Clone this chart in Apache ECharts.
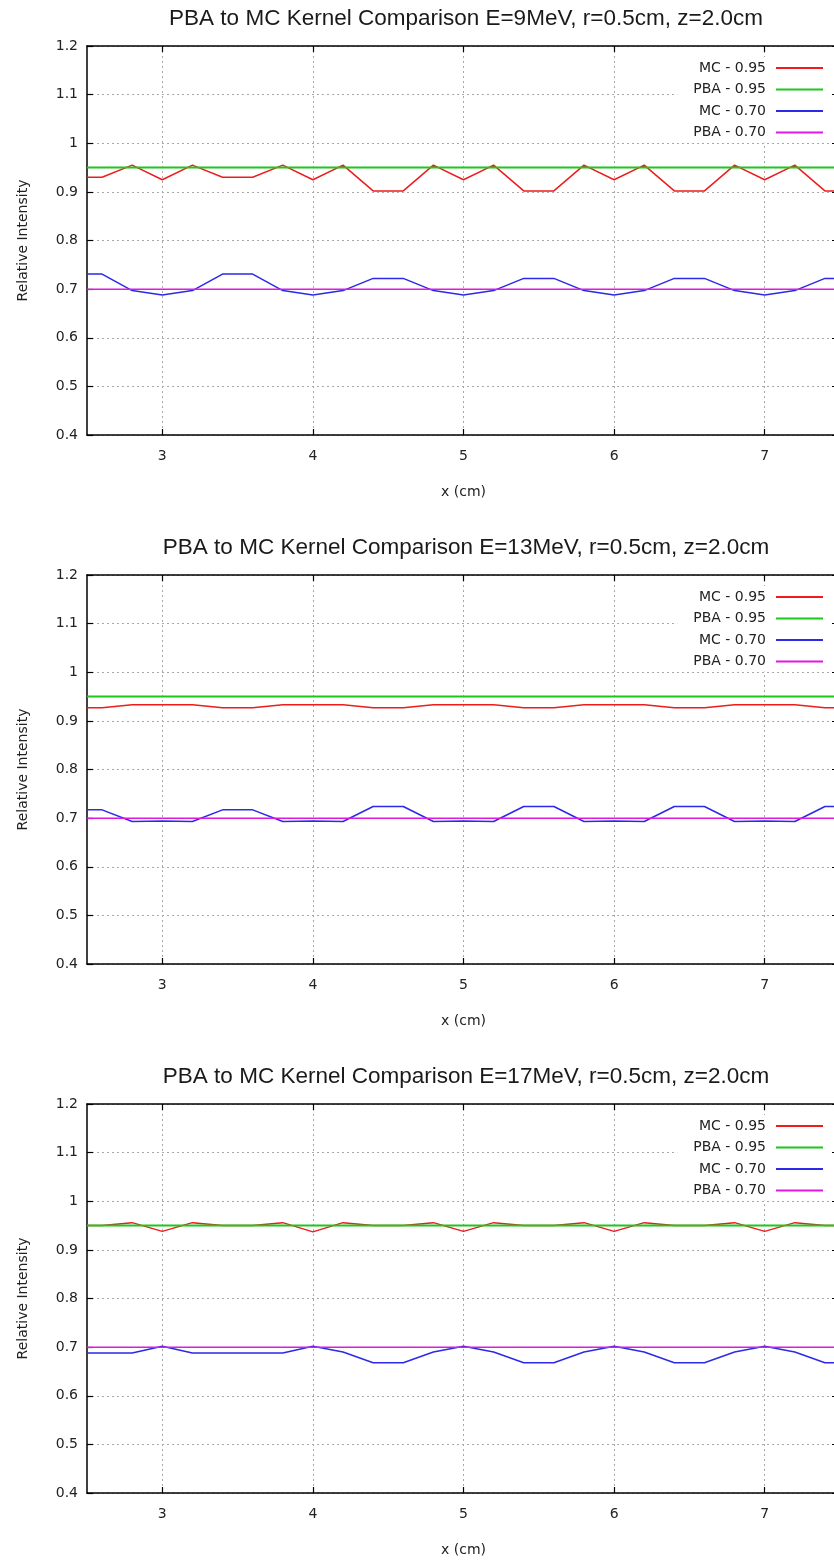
<!DOCTYPE html>
<html>
<head>
<meta charset="utf-8">
<script src="https://cdn.jsdelivr.net/npm/echarts@6/dist/echarts.min.js"></script>
<style>
  html, body { margin: 0; padding: 0; background: #ffffff; }
  #chart { width: 834px; height: 1564px; }
</style>
</head>
<body>
<div id="chart"></div>
<script>
// Lateral positions (cm) at which the kernels were sampled
const xPos = [2.5, 2.6, 2.8, 3.0, 3.2, 3.4, 3.6, 3.8, 4.0, 4.2, 4.4, 4.6, 4.8, 5.0,
              5.2, 5.4, 5.6, 5.8, 6.0, 6.2, 6.4, 6.6, 6.8, 7.0, 7.2, 7.4, 7.5];

// Panel titles
const titles = [
  'PBA to MC Kernel Comparison E=9MeV, r=0.5cm, z=2.0cm',
  'PBA to MC Kernel Comparison E=13MeV, r=0.5cm, z=2.0cm',
  'PBA to MC Kernel Comparison E=17MeV, r=0.5cm, z=2.0cm'
];

// Monte Carlo profiles, 9 MeV
const mc95_9 = [0.930, 0.930, 0.955, 0.925, 0.955, 0.930, 0.930, 0.955, 0.925, 0.955, 0.902, 0.902, 0.955, 0.925,
                0.955, 0.902, 0.902, 0.955, 0.925, 0.955, 0.902, 0.902, 0.955, 0.925, 0.955, 0.902, 0.902];
const mc70_9 = [0.731, 0.731, 0.697, 0.688, 0.697, 0.731, 0.731, 0.697, 0.688, 0.697, 0.722, 0.722, 0.697, 0.688,
                0.697, 0.722, 0.722, 0.697, 0.688, 0.697, 0.722, 0.722, 0.697, 0.688, 0.697, 0.722, 0.722];

// Monte Carlo profiles, 13 MeV
const mc95_13 = [0.927, 0.927, 0.933, 0.933, 0.933, 0.927, 0.927, 0.933, 0.933, 0.933, 0.927, 0.927, 0.933, 0.933,
                 0.933, 0.927, 0.927, 0.933, 0.933, 0.933, 0.927, 0.927, 0.933, 0.933, 0.933, 0.927, 0.927];
const mc70_13 = [0.717, 0.717, 0.693, 0.694, 0.693, 0.717, 0.717, 0.693, 0.694, 0.693, 0.724, 0.724, 0.693, 0.694,
                 0.693, 0.724, 0.724, 0.693, 0.694, 0.693, 0.724, 0.724, 0.693, 0.694, 0.693, 0.724, 0.724];

// Monte Carlo profiles, 17 MeV
const mc95_17 = [0.950, 0.950, 0.956, 0.938, 0.956, 0.950, 0.950, 0.956, 0.937, 0.956, 0.950, 0.950, 0.956, 0.938,
                 0.956, 0.950, 0.950, 0.956, 0.938, 0.956, 0.950, 0.950, 0.956, 0.938, 0.956, 0.950, 0.950];
const mc70_17 = [0.688, 0.688, 0.688, 0.702, 0.688, 0.688, 0.688, 0.688, 0.702, 0.690, 0.668, 0.668, 0.690, 0.702,
                 0.690, 0.668, 0.668, 0.690, 0.702, 0.690, 0.668, 0.668, 0.690, 0.702, 0.690, 0.668, 0.668];

// Pencil-beam (PBA) reference levels, flat across the field
const pbaX = [2.5, 7.5];
const pba95 = [0.95, 0.95];
const pba70 = [0.70, 0.70];

// Axis ticks
const xTicks = [3, 4, 5, 6, 7];
const seriesNames = ['MC - 0.95', 'PBA - 0.95', 'MC - 0.70', 'PBA - 0.70'];
const seriesColors = ['#ee1c1c', '#1cc81c', '#2a2ae8', '#e018e0'];

const mcSets = [[mc95_9, mc70_9], [mc95_13, mc70_13], [mc95_17, mc70_17]];

const FONT = 'DejaVu Sans';
const panelTop = [46, 575, 1104];
const plotH = 389;
const plotW = 753; // right frame sits just past the canvas edge

const pairs = (xs, ys) => xs.map((x, i) => [x, ys[i]]);

const option = {
  animation: false,
  backgroundColor: '#ffffff',
  title: [], grid: [], xAxis: [], yAxis: [], legend: [], series: []
};

panelTop.forEach((top, p) => {
  option.title.push({
    text: titles[p],
    left: 466,
    textAlign: 'center',
    top: top - 39,
    padding: 0,
    textStyle: { fontFamily: 'Liberation Sans', fontSize: 22.5, fontWeight: 'normal', color: '#1a1a1a' }
  });
  option.grid.push({
    left: 87, width: plotW, top: top, height: plotH,
    containLabel: false, outerBoundsMode: 'none'
  });

  const tickLine = { lineStyle: { color: '#000', width: 1.2 } };
  // bottom x axis
  option.xAxis.push({
    type: 'value', gridIndex: p, position: 'bottom', min: 2.5, max: 7.5,
    axisLine: { show: true, onZero: false, lineStyle: { color: '#000', width: 1.5 } },
    axisTick: Object.assign({ show: true, inside: true, length: 6, customValues: xTicks }, tickLine),
    axisLabel: { customValues: xTicks, margin: 14, fontFamily: FONT, fontSize: 14, color: '#222' },
    splitLine: { show: true, lineStyle: { type: [2, 3], color: '#a8a8a8', width: 1 } },
    name: 'x (cm)', nameLocation: 'middle', nameGap: 50,
    nameTextStyle: { fontFamily: FONT, fontSize: 14, color: '#222' }
  });
  // top mirror axis
  option.xAxis.push({
    type: 'value', gridIndex: p, position: 'top', min: 2.5, max: 7.5,
    axisLine: { show: true, onZero: false, lineStyle: { color: '#000', width: 1.5 } },
    axisTick: Object.assign({ show: true, inside: true, length: 6, customValues: xTicks }, tickLine),
    axisLabel: { show: false }, splitLine: { show: false }
  });
  // left y axis
  option.yAxis.push({
    type: 'value', gridIndex: p, position: 'left', min: 0.4, max: 1.2, interval: 0.1,
    axisLine: { show: true, onZero: false, lineStyle: { color: '#000', width: 1.5 } },
    axisTick: Object.assign({ show: true, inside: true, length: 6 }, tickLine),
    axisLabel: { margin: 9, fontFamily: FONT, fontSize: 14, color: '#222' },
    splitLine: { show: true, lineStyle: { type: [2, 3], color: '#a8a8a8', width: 1 } },
    name: 'Relative Intensity', nameLocation: 'middle', nameGap: 57,
    nameTextStyle: { fontFamily: FONT, fontSize: 14, color: '#222' }
  });
  // right mirror axis
  option.yAxis.push({
    type: 'value', gridIndex: p, position: 'right', min: 0.4, max: 1.2, interval: 0.1,
    axisLine: { show: true, onZero: false, lineStyle: { color: '#000', width: 1.5 } },
    axisTick: Object.assign({ show: true, inside: true, length: 8 }, tickLine),
    axisLabel: { show: false }, splitLine: { show: false }
  });

  option.legend.push({
    data: seriesNames,
    orient: 'vertical', align: 'right',
    right: 3, top: top + 11,
    backgroundColor: '#ffffff',
    padding: [4, 8, 3, 16],
    icon: 'rect',
    itemWidth: 47, itemHeight: 2, itemGap: 7.5,
    selectedMode: false,
    textStyle: { fontFamily: FONT, fontSize: 14, lineHeight: 14, color: '#222', padding: [0, 5, 0, 0] }
  });

  const [mc95, mc70] = mcSets[p];
  const lines = [pairs(xPos, mc95), pairs(pbaX, pba95), pairs(xPos, mc70), pairs(pbaX, pba70)];
  lines.forEach((d, k) => {
    option.series.push({
      type: 'line', name: seriesNames[k],
      xAxisIndex: 2 * p, yAxisIndex: 2 * p,
      data: d, symbol: 'none', clip: true,
      lineStyle: { color: seriesColors[k], width: k === 1 ? 2 : 1.5 },
      itemStyle: { color: seriesColors[k] }
    });
  });
});

const chart = echarts.init(document.getElementById('chart'), null, { renderer: 'canvas' });
chart.setOption(option);
</script>
</body>
</html>
